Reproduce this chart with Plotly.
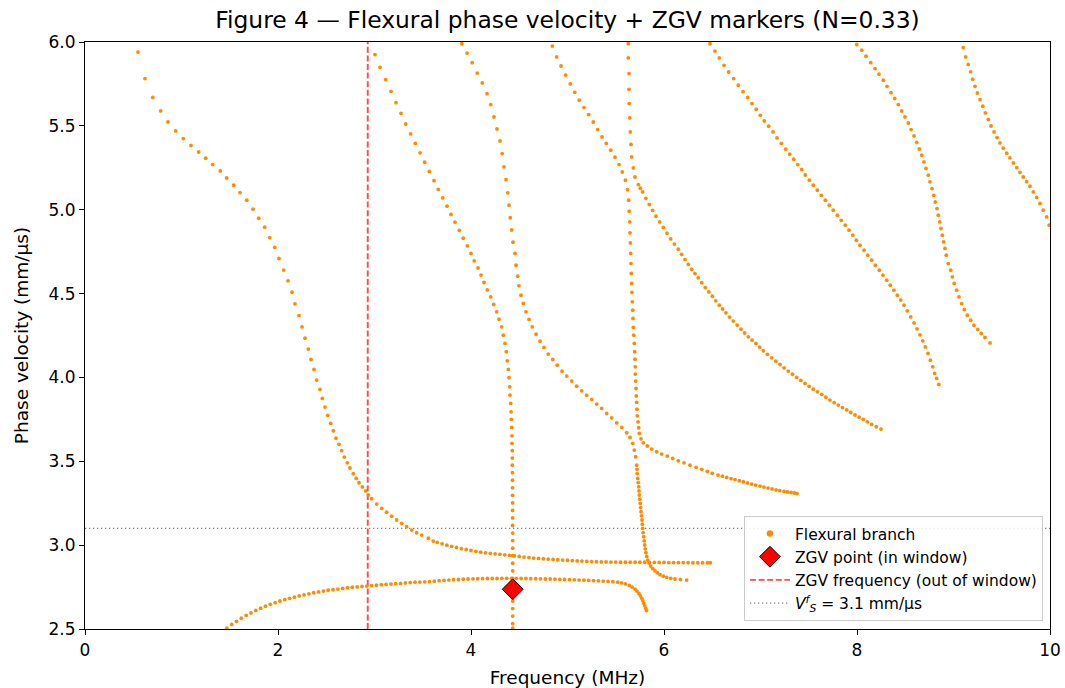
import plotly.graph_objects as go

# ---------------- data (frequency in MHz, phase velocity in mm/us) ----------------
branch_a = [(0.549, 5.940), (0.622, 5.782), (0.702, 5.669), (0.784, 5.589), (0.860, 5.523),
            (0.940, 5.470), (1.019, 5.424), (1.098, 5.383), (1.178, 5.344), (1.251, 5.307),
            (1.323, 5.269), (1.402, 5.231), (1.468, 5.189), (1.541, 5.146), (1.606, 5.102),
            (1.676, 5.057), (1.741, 5.003), (1.800, 4.949), (1.862, 4.896), (1.914, 4.834),
            (1.966, 4.775), (2.010, 4.709), (2.059, 4.640), (2.104, 4.576), (2.145, 4.508),
            (2.176, 4.439), (2.218, 4.369), (2.249, 4.301), (2.280, 4.234), (2.314, 4.169),
            (2.342, 4.107), (2.373, 4.048), (2.401, 3.984), (2.435, 3.928), (2.459, 3.875),
            (2.487, 3.823), (2.515, 3.774), (2.546, 3.726), (2.573, 3.682), (2.601, 3.638),
            (2.632, 3.601), (2.660, 3.563), (2.687, 3.525), (2.718, 3.491), (2.746, 3.460),
            (2.780, 3.426), (2.811, 3.398), (2.839, 3.372), (2.874, 3.347), (2.909, 3.323),
            (2.936, 3.299), (2.971, 3.277), (3.023, 3.245), (3.075, 3.219), (3.126, 3.196),
            (3.178, 3.173), (3.230, 3.150), (3.282, 3.130), (3.334, 3.110), (3.386, 3.090),
            (3.437, 3.074), (3.489, 3.060), (3.558, 3.041), (3.609, 3.024), (3.65, 3.017),
            (3.70, 3.008), (3.75, 3.000), (3.80, 2.993), (3.85, 2.986), (3.90, 2.979),
            (3.95, 2.974), (4.00, 2.968), (4.05, 2.963), (4.10, 2.958), (4.15, 2.954),
            (4.20, 2.951), (4.25, 2.948), (4.30, 2.945), (4.35, 2.942), (4.40, 2.939),
            (4.45, 2.936), (4.50, 2.933), (4.55, 2.929), (4.60, 2.926), (4.65, 2.923),
            (4.70, 2.921), (4.75, 2.919), (4.80, 2.917), (4.85, 2.915), (4.90, 2.913),
            (4.95, 2.911), (5.00, 2.910), (5.05, 2.908), (5.10, 2.906), (5.15, 2.905),
            (5.20, 2.903), (5.25, 2.902), (5.30, 2.901), (5.35, 2.900), (5.40, 2.900),
            (5.45, 2.899), (5.50, 2.899), (5.55, 2.898), (5.60, 2.898), (5.65, 2.898),
            (5.70, 2.898), (5.75, 2.898), (5.80, 2.898), (5.85, 2.897), (5.90, 2.897),
            (5.95, 2.897), (6.00, 2.897), (6.05, 2.896), (6.10, 2.896), (6.15, 2.896),
            (6.20, 2.896), (6.25, 2.896), (6.30, 2.895), (6.35, 2.895), (6.40, 2.895),
            (6.45, 2.895), (6.48, 2.895)]

branch_b = [(1.47, 2.505), (1.52, 2.527), (1.57, 2.546), (1.62, 2.564), (1.67, 2.581),
            (1.72, 2.596), (1.77, 2.611), (1.82, 2.624), (1.87, 2.636), (1.92, 2.647),
            (1.97, 2.657), (2.02, 2.667), (2.07, 2.675), (2.12, 2.683), (2.17, 2.690),
            (2.22, 2.697), (2.27, 2.703), (2.32, 2.710), (2.37, 2.716), (2.42, 2.721),
            (2.47, 2.726), (2.52, 2.731), (2.57, 2.734), (2.62, 2.738), (2.67, 2.742),
            (2.72, 2.746), (2.77, 2.749), (2.82, 2.751), (2.87, 2.754), (2.92, 2.756),
            (2.97, 2.759), (3.02, 2.761), (3.07, 2.764), (3.12, 2.766), (3.17, 2.768),
            (3.22, 2.770), (3.27, 2.772), (3.32, 2.775), (3.37, 2.777), (3.42, 2.779),
            (3.47, 2.780), (3.52, 2.781), (3.57, 2.783), (3.62, 2.785), (3.67, 2.788),
            (3.72, 2.790), (3.77, 2.792), (3.82, 2.794), (3.87, 2.795), (3.92, 2.797),
            (3.97, 2.798), (4.02, 2.799), (4.07, 2.800), (4.12, 2.800), (4.17, 2.801),
            (4.22, 2.801), (4.27, 2.801), (4.32, 2.802), (4.37, 2.802), (4.42, 2.802),
            (4.47, 2.802), (4.52, 2.801), (4.57, 2.801), (4.62, 2.800), (4.67, 2.800),
            (4.72, 2.799), (4.77, 2.798), (4.82, 2.798), (4.87, 2.797), (4.92, 2.796),
            (4.97, 2.795), (5.02, 2.794), (5.07, 2.793), (5.12, 2.792), (5.17, 2.791),
            (5.22, 2.790), (5.27, 2.789), (5.32, 2.787), (5.37, 2.786), (5.42, 2.784),
            (5.47, 2.782), (5.52, 2.779), (5.56, 2.775), (5.60, 2.769), (5.64, 2.760),
            (5.67, 2.750), (5.70, 2.738), (5.72, 2.726), (5.74, 2.712), (5.755, 2.698),
            (5.77, 2.683), (5.78, 2.668), (5.79, 2.653), (5.80, 2.638), (5.81, 2.623),
            (5.82, 2.610)]

branch_c = [(3.904, 5.990), (3.959, 5.934), (4.012, 5.877), (4.065, 5.815), (4.117, 5.756),
            (4.166, 5.692), (4.204, 5.627), (4.238, 5.553), (4.269, 5.482), (4.301, 5.410),
            (4.323, 5.335), (4.342, 5.255), (4.363, 5.179), (4.380, 5.101), (4.394, 5.027),
            (4.407, 4.952), (4.422, 4.879), (4.435, 4.806), (4.456, 4.739), (4.466, 4.669),
            (4.484, 4.604), (4.497, 4.546), (4.518, 4.490), (4.542, 4.441), (4.570, 4.391),
            (4.601, 4.346), (4.635, 4.302), (4.674, 4.258), (4.715, 4.216), (4.756, 4.179),
            (4.801, 4.139), (4.847, 4.107), (4.894, 4.073), (4.943, 4.037), (4.992, 4.008),
            (5.044, 3.978), (5.095, 3.948), (5.147, 3.920), (5.199, 3.894), (5.251, 3.869),
            (5.303, 3.841), (5.354, 3.815), (5.406, 3.785), (5.458, 3.759), (5.510, 3.729),
            (5.562, 3.702), (5.614, 3.670), (5.648, 3.642), (5.676, 3.607), (5.692, 3.567),
            (5.707, 3.527), (5.717, 3.477), (5.720, 3.452), (5.722, 3.427), (5.728, 3.398),
            (5.733, 3.373), (5.738, 3.348), (5.741, 3.323), (5.744, 3.299), (5.749, 3.274),
            (5.754, 3.249), (5.758, 3.224), (5.762, 3.199), (5.767, 3.175), (5.772, 3.150),
            (5.775, 3.125), (5.779, 3.100), (5.784, 3.075), (5.790, 3.050), (5.795, 3.025),
            (5.800, 3.001), (5.806, 2.978), (5.813, 2.955), (5.821, 2.933), (5.831, 2.911),
            (5.845, 2.893), (5.862, 2.875), (5.883, 2.860), (5.907, 2.847), (5.932, 2.835),
            (5.959, 2.824), (5.993, 2.815), (6.028, 2.808), (6.070, 2.802), (6.114, 2.798),
            (6.170, 2.795), (6.235, 2.792)]

branch_d = [(3.005, 5.925), (3.057, 5.849), (3.116, 5.776), (3.171, 5.706), (3.223, 5.639),
            (3.275, 5.575), (3.323, 5.511), (3.375, 5.452), (3.423, 5.395), (3.472, 5.339),
            (3.520, 5.283), (3.568, 5.228), (3.617, 5.173), (3.661, 5.121), (3.707, 5.070),
            (3.751, 5.021), (3.793, 4.972), (3.834, 4.926), (3.879, 4.877), (3.920, 4.830),
            (3.962, 4.784), (4.000, 4.739), (4.034, 4.695), (4.073, 4.653), (4.104, 4.610),
            (4.135, 4.566), (4.169, 4.522), (4.204, 4.480), (4.235, 4.435), (4.266, 4.391),
            (4.290, 4.347), (4.318, 4.302), (4.335, 4.252), (4.352, 4.203), (4.366, 4.153),
            (4.376, 4.099), (4.387, 4.048), (4.394, 3.998), (4.401, 3.944), (4.404, 3.895),
            (4.411, 3.845), (4.415, 3.795), (4.418, 3.750), (4.422, 3.702), (4.425, 3.652),
            (4.425, 3.607), (4.428, 3.563), (4.428, 3.519), (4.428, 3.477), (4.430, 3.432),
            (4.430, 3.387), (4.430, 3.342), (4.431, 3.297), (4.431, 3.252), (4.431, 3.207),
            (4.431, 3.162), (4.431, 3.117), (4.432, 3.072), (4.432, 3.027), (4.432, 2.982),
            (4.432, 2.937), (4.432, 2.892), (4.432, 2.847), (4.432, 2.802), (4.432, 2.757),
            (4.432, 2.712), (4.432, 2.667), (4.432, 2.622), (4.432, 2.577), (4.432, 2.532),
            (4.432, 2.505)]

branch_e1 = [(4.843, 5.976), (4.888, 5.911), (4.933, 5.857), (4.981, 5.803), (5.029, 5.750),
             (5.075, 5.700), (5.122, 5.653), (5.171, 5.609), (5.220, 5.567), (5.267, 5.523),
             (5.313, 5.478), (5.358, 5.434), (5.402, 5.395), (5.448, 5.355), (5.492, 5.313),
             (5.534, 5.269), (5.568, 5.225), (5.601, 5.176), (5.622, 5.120), (5.634, 5.057),
             (5.640, 4.991), (5.645, 4.927), (5.648, 4.862), (5.651, 4.802), (5.655, 4.739),
             (5.658, 4.679), (5.661, 4.620), (5.665, 4.560), (5.668, 4.507), (5.672, 4.451),
             (5.676, 4.401), (5.679, 4.352), (5.682, 4.298), (5.686, 4.252), (5.692, 4.203),
             (5.696, 4.153), (5.699, 4.109), (5.702, 4.063), (5.702, 4.020), (5.707, 3.978),
             (5.710, 3.934), (5.713, 3.890), (5.717, 3.851), (5.720, 3.811), (5.723, 3.771),
             (5.731, 3.735), (5.738, 3.700), (5.744, 3.666), (5.762, 3.634), (5.786, 3.610),
             (5.827, 3.591), (5.873, 3.573), (5.924, 3.557), (5.976, 3.543), (6.034, 3.531),
             (6.090, 3.517), (6.148, 3.503), (6.207, 3.491), (6.269, 3.477), (6.332, 3.464),
             (6.391, 3.452), (6.449, 3.440), (6.500, 3.428), (6.560, 3.418), (6.605, 3.411),
             (6.650, 3.404), (6.695, 3.397), (6.736, 3.391), (6.780, 3.384), (6.822, 3.378),
             (6.865, 3.371), (6.909, 3.364), (6.950, 3.358), (6.995, 3.352), (7.036, 3.346),
             (7.078, 3.340), (7.120, 3.335), (7.161, 3.330), (7.200, 3.325), (7.244, 3.320),
             (7.280, 3.317), (7.316, 3.314), (7.350, 3.311), (7.378, 3.308)]

branch_e2 = [(5.630, 5.990), (5.630, 5.905), (5.637, 5.812), (5.637, 5.718), (5.640, 5.633),
             (5.645, 5.547), (5.651, 5.464), (5.658, 5.389), (5.665, 5.315), (5.682, 5.249),
             (5.699, 5.195), (5.734, 5.150), (5.755, 5.128), (5.779, 5.106), (5.812, 5.068),
             (5.848, 5.031), (5.882, 4.996), (5.917, 4.961), (5.955, 4.927), (5.993, 4.894),
             (6.031, 4.860), (6.069, 4.826), (6.108, 4.795), (6.148, 4.765), (6.183, 4.734),
             (6.218, 4.703), (6.252, 4.674), (6.287, 4.645), (6.321, 4.619), (6.355, 4.594),
             (6.391, 4.565), (6.428, 4.536), (6.464, 4.510), (6.501, 4.484), (6.537, 4.457),
             (6.573, 4.431), (6.607, 4.408), (6.642, 4.385), (6.680, 4.360), (6.718, 4.336),
             (6.758, 4.312), (6.798, 4.288), (6.836, 4.265), (6.874, 4.242), (6.913, 4.222),
             (6.953, 4.203), (6.991, 4.181), (7.029, 4.159), (7.072, 4.138), (7.116, 4.117),
             (7.159, 4.097), (7.202, 4.077), (7.245, 4.057), (7.288, 4.038), (7.331, 4.019),
             (7.375, 4.000), (7.418, 3.982), (7.461, 3.964), (7.504, 3.947), (7.547, 3.930),
             (7.590, 3.914), (7.634, 3.899), (7.677, 3.882), (7.720, 3.865), (7.763, 3.850),
             (7.806, 3.835), (7.850, 3.820), (7.893, 3.806), (7.936, 3.791), (7.979, 3.776),
             (8.022, 3.763), (8.065, 3.750), (8.108, 3.735), (8.152, 3.720), (8.200, 3.706),
             (8.249, 3.692)]

branch_e = [(6.477, 5.990), (6.528, 5.946), (6.573, 5.905), (6.622, 5.861), (6.670, 5.821),
            (6.722, 5.782), (6.770, 5.742), (6.819, 5.704), (6.867, 5.669), (6.912, 5.633),
            (6.956, 5.599), (6.998, 5.563), (7.039, 5.529), (7.085, 5.498), (7.130, 5.464),
            (7.171, 5.428), (7.216, 5.395), (7.261, 5.361), (7.303, 5.331), (7.344, 5.301),
            (7.386, 5.269), (7.427, 5.240), (7.464, 5.207), (7.506, 5.176), (7.547, 5.146),
            (7.589, 5.116), (7.630, 5.086), (7.672, 5.057), (7.713, 5.027), (7.754, 4.997),
            (7.796, 4.967), (7.837, 4.937), (7.879, 4.908), (7.917, 4.878), (7.956, 4.848),
            (7.993, 4.818), (8.031, 4.788), (8.073, 4.759), (8.111, 4.729), (8.152, 4.699),
            (8.190, 4.669), (8.231, 4.639), (8.269, 4.610), (8.308, 4.580), (8.345, 4.550),
            (8.383, 4.520), (8.418, 4.490), (8.453, 4.461), (8.487, 4.431), (8.521, 4.397),
            (8.557, 4.361), (8.591, 4.325), (8.622, 4.290), (8.653, 4.254), (8.681, 4.218),
            (8.708, 4.182), (8.736, 4.143), (8.760, 4.103), (8.785, 4.063), (8.805, 4.024),
            (8.826, 3.994), (8.847, 3.958)]

branch_f = [(7.997, 5.985), (8.049, 5.951), (8.093, 5.915), (8.142, 5.877), (8.187, 5.841),
            (8.228, 5.808), (8.273, 5.772), (8.311, 5.736), (8.352, 5.698), (8.391, 5.663),
            (8.428, 5.627), (8.463, 5.589), (8.497, 5.553), (8.532, 5.517), (8.560, 5.478),
            (8.591, 5.440), (8.619, 5.402), (8.646, 5.362), (8.671, 5.325), (8.694, 5.285),
            (8.715, 5.246), (8.739, 5.206), (8.756, 5.166), (8.777, 5.126), (8.795, 5.086),
            (8.811, 5.046), (8.829, 5.007), (8.842, 4.967), (8.857, 4.927), (8.870, 4.888),
            (8.884, 4.848), (8.898, 4.808), (8.912, 4.769), (8.925, 4.729), (8.946, 4.679),
            (8.971, 4.639), (8.988, 4.600), (9.008, 4.560), (9.033, 4.520), (9.057, 4.480),
            (9.085, 4.440), (9.112, 4.405), (9.143, 4.371), (9.178, 4.341), (9.212, 4.311),
            (9.251, 4.286), (9.288, 4.262), (9.326, 4.238), (9.378, 4.206)]

branch_g = [(9.101, 5.967), (9.126, 5.911), (9.153, 5.866), (9.178, 5.822), (9.199, 5.778),
            (9.223, 5.736), (9.247, 5.696), (9.275, 5.657), (9.303, 5.617), (9.330, 5.577),
            (9.361, 5.538), (9.389, 5.499), (9.420, 5.464), (9.451, 5.430), (9.482, 5.398),
            (9.516, 5.367), (9.551, 5.337), (9.585, 5.309), (9.620, 5.279), (9.655, 5.251),
            (9.689, 5.223), (9.723, 5.195), (9.758, 5.167), (9.793, 5.140), (9.827, 5.106),
            (9.862, 5.073), (9.896, 5.037), (9.930, 4.997), (9.965, 4.957), (9.992, 4.908)]

zgv_point_f = [4.432]
zgv_point_v = [2.737]
zgv_freq_out = 2.93
vs_flex = 3.1

x_range = [0, 10]
y_range = [2.5, 6.0]
x_ticks = [0, 2, 4, 6, 8, 10]
y_ticks = [2.5, 3.0, 3.5, 4.0, 4.5, 5.0, 5.5, 6.0]

# ---------------- figure ----------------
branches = [branch_a, branch_b, branch_c, branch_d, branch_e1, branch_e2,
            branch_e, branch_f, branch_g]
all_f = [p[0] for br in branches for p in br]
all_v = [p[1] for br in branches for p in br]

FONT = "DejaVu Sans"
ORANGE = "#ff8c00"
fig = go.Figure()

fig.add_trace(go.Scatter(
    x=x_range, y=[vs_flex, vs_flex], mode="lines",
    line=dict(color="#808080", width=1.3, dash="1.3px,2.7px"),
    name="<i>V</i><sup><i>f</i></sup><sub><i>S</i></sub> = 3.1 mm/μs",
    legendrank=4, hoverinfo="skip"))

fig.add_trace(go.Scatter(
    x=[zgv_freq_out, zgv_freq_out], y=y_range, mode="lines",
    line=dict(color="rgba(255,0,0,0.7)", width=1.9, dash="6px,2.6px"),
    name="ZGV frequency (out of window)", legendrank=3, hoverinfo="skip"))

fig.add_trace(go.Scatter(
    x=all_f, y=all_v, mode="markers",
    marker=dict(color=ORANGE, size=3.8, line=dict(width=0)),
    name="Flexural branch", showlegend=False))

# legend entry for the branch dots (slightly larger symbol, as in the reference legend)
fig.add_trace(go.Scatter(
    x=[None], y=[None], mode="markers",
    marker=dict(color=ORANGE, size=6.5, line=dict(width=0)),
    name="Flexural branch", legendrank=1))

fig.add_trace(go.Scatter(
    x=zgv_point_f, y=zgv_point_v, mode="markers",
    marker=dict(symbol="diamond", color="red", size=16,
                line=dict(color="black", width=1)),
    name="ZGV point (in window)", legendrank=2))

axis_common = dict(
    ticks="outside", ticklen=5, tickwidth=1.2, tickcolor="black",
    showline=True, linecolor="black", linewidth=1.2, mirror=True,
    showgrid=False, zeroline=False, automargin=False,
    tickfont=dict(family=FONT, size=17, color="black"),
)

fig.update_layout(
    width=1065, height=688,
    margin=dict(l=85, r=15, t=42, b=59, autoexpand=False),
    paper_bgcolor="white", plot_bgcolor="white",
    font=dict(family=FONT, size=17, color="black"),
    title=dict(text="Figure 4 — Flexural phase velocity + ZGV markers (N=0.33)",
               x=0.5, xref="paper", xanchor="center",
               y=1, yref="paper", yanchor="bottom", pad=dict(b=14),
               font=dict(family=FONT, size=23.4, color="black")),
    xaxis=dict(range=x_range, tickvals=x_ticks,
               title=dict(text="Frequency (MHz)", font=dict(family=FONT, size=18.5), standoff=12),
               **axis_common),
    yaxis=dict(range=y_range, tickvals=y_ticks, tickformat=".1f",
               title=dict(text="Phase velocity (mm/μs)", font=dict(family=FONT, size=18.5), standoff=14),
               **axis_common),
    legend=dict(x=0.9927, xanchor="right", y=0.0136, yanchor="bottom",
                bgcolor="rgba(255,255,255,0.85)", bordercolor="#cccccc", borderwidth=1,
                font=dict(family=FONT, size=15.5, color="black"), itemwidth=40),
    showlegend=True,
)

fig.write_html("out.html")
